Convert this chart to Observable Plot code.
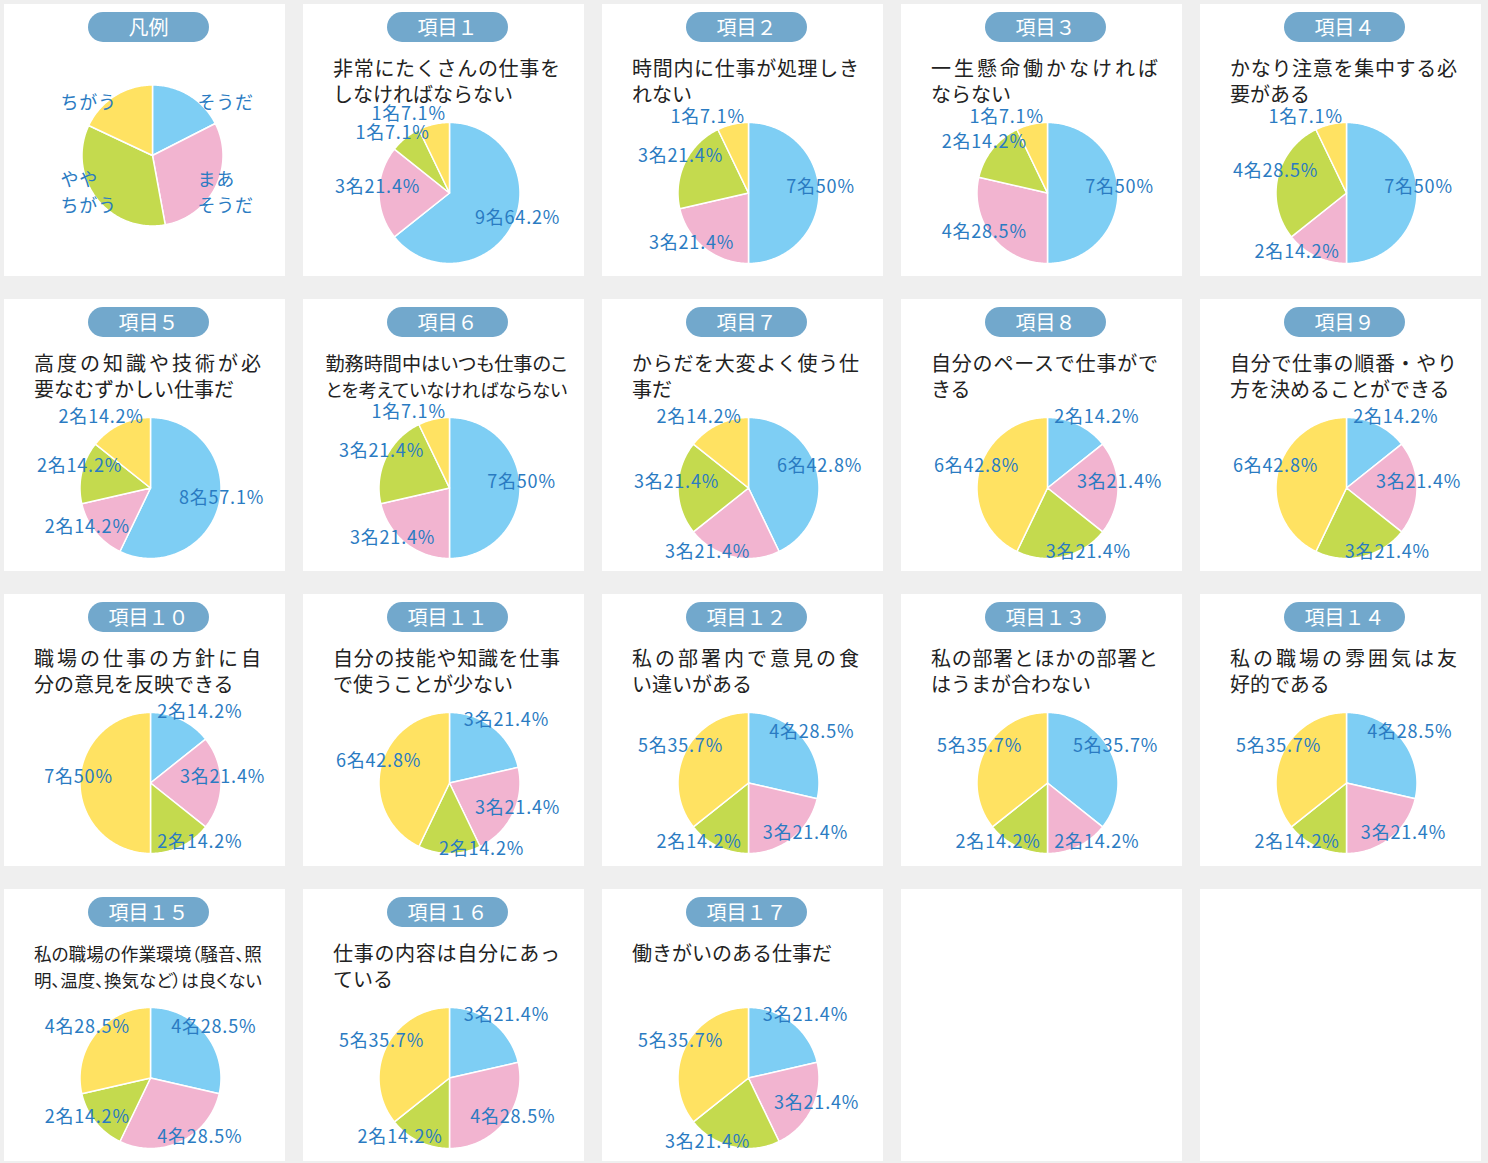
<!DOCTYPE html>
<html><head><meta charset="utf-8">
<script src="https://cdn.jsdelivr.net/npm/d3@7"></script>
<script src="https://cdn.jsdelivr.net/npm/@observablehq/plot@0.6"></script>
<style>
html,body{margin:0;padding:0;background:#efefef;}
body{width:1488px;height:1163px;position:relative;overflow:hidden;font-family:"Noto Sans CJK JP",sans-serif;}
.panel{position:absolute;width:281px;height:272px;background:#fff;}
.panel svg{position:absolute;left:0;top:0;overflow:visible;}
.panel svg text{letter-spacing:0.8px;}
.pill{position:absolute;left:84px;top:8px;width:121px;height:30px;border-radius:15px;background:#72a8cc;color:#fff;font-size:20px;line-height:30px;text-align:center;}
.title{position:absolute;left:30px;top:51px;font-size:20px;line-height:26px;color:#222;}
.title div{height:26px;white-space:nowrap;}
.title span{display:inline-block;white-space:nowrap;}
.palt{font-feature-settings:"palt";}
</style></head><body>
<script>
// ---- data ----
const categories = ["そうだ", "まあそうだ", "ややちがう", "ちがう"];
const categoryLabels = ["そうだ", "まあ\nそうだ", "やや\nちがう", "ちがう"];
const sliceColors = ["#7ecef4", "#f2b4d0", "#c4da4e", "#ffe262"];
const legendName = "凡例";
const legendShares = [17.5, 29.6, 34.9, 18.0];
const respondents = 14;
const itemNames = ["項目１","項目２","項目３","項目４","項目５","項目６","項目７","項目８","項目９",
  "項目１０","項目１１","項目１２","項目１３","項目１４","項目１５","項目１６","項目１７"];
const itemTitles = [
  "非常にたくさんの仕事を\nしなければならない",
  "時間内に仕事が処理しき\nれない",
  "一生懸命働かなければ\nならない",
  "かなり注意を集中する必\n要がある",
  "高度の知識や技術が必\n要なむずかしい仕事だ",
  "勤務時間中はいつも仕事のこ\nとを考えていなければならない",
  "からだを大変よく使う仕\n事だ",
  "自分のペースで仕事がで\nきる",
  "自分で仕事の順番・やり\n方を決めることができる",
  "職場の仕事の方針に自\n分の意見を反映できる",
  "自分の技能や知識を仕事\nで使うことが少ない",
  "私の部署内で意見の食\nい違いがある",
  "私の部署とほかの部署と\nはうまが合わない",
  "私の職場の雰囲気は友\n好的である",
  "私の職場の作業環境（騒音、照\n明、温度、換気など）は良くない",
  "仕事の内容は自分にあっ\nている",
  "働きがいのある仕事だ"
];
const countYes        = [9,7,7,7,8,7,6,2,2,2,3,4,5,4,4,3,3];
const countRatherYes  = [3,3,4,2,2,3,3,3,3,3,3,3,2,3,4,4,3];
const countRatherNo   = [1,3,2,4,2,3,3,3,3,2,2,2,2,2,2,2,3];
const countNo         = [1,1,1,1,2,1,2,6,6,7,6,5,5,5,4,5,5];

// ---- layout constants ----
const PX = 70.5;            // pie radius in px
const labelColor = "#2a7bc2";
const fontFam = '"Noto Sans CJK JP", sans-serif';

function pct(c){ return Math.floor(c / respondents * 1000) / 10; }

function slices(values){
  const arcs = d3.pie().sort(null).value(d => d)(values);
  const pts = [];
  arcs.forEach((a, i) => {
    const cat = categories[i];
    pts.push({cat, x: 0, y: 0});
    const n = Math.max(2, Math.ceil((a.endAngle - a.startAngle) / (Math.PI / 180)));
    for (let k = 0; k <= n; k++) {
      const t = a.startAngle + (a.endAngle - a.startAngle) * k / n;
      pts.push({cat, x: Math.sin(t), y: Math.cos(t)});
    }
    pts.push({cat, x: 0, y: 0});
  });
  return {arcs, pts};
}

function itemLabels(arcs, counts){
  const labs = arcs.map((a, i) => {
    const m = (a.startAngle + a.endAngle) / 2, s = Math.sin(m), c = Math.cos(m);
    const text = `${counts[i]}名${pct(counts[i])}%`;
    return {text, px: s * 72 + Math.sign(s) * 32 * (1 - Math.abs(s)), py: -c * 72 - 6, w: text.length * 11 + 8};
  });
  for (let it = 0; it < 30; it++) {
    for (let i = 0; i < labs.length; i++) for (let j = i + 1; j < labs.length; j++) {
      const a = labs[i], b = labs[j];
      const dx = Math.abs(a.px - b.px), dy = b.py - a.py;
      if (dx < (a.w + b.w) / 2 && Math.abs(dy) < 19) {
        const push = (19 - Math.abs(dy)) / 2;
        if (dy >= 0) { a.py -= push; b.py += push; } else { a.py += push; b.py -= push; }
      }
    }
  }
  return labs.map(l => ({text: l.text, x: l.px / PX, y: -l.py / PX}));
}

function legendLabels(arcs){
  return arcs.map((a, i) => {
    const m = (a.startAngle + a.endAngle) / 2, s = Math.sin(m), c = Math.cos(m);
    return {text: categoryLabels[i], x: (s > 0 ? 45 : -92) / PX, y: (c > 0 ? 55 : -35) / PX};
  });
}

function piePlot(values, labels, margins, textOpts){
  return Plot.plot({
    width: 281, height: 272,
    ...margins,
    x: {domain: [-1, 1], axis: null},
    y: {domain: [-1, 1], axis: null},
    color: {domain: categories, range: sliceColors},
    style: {fontFamily: fontFam, background: "none", overflow: "visible"},
    marks: [
      Plot.line(values.pts, {x: "x", y: "y", z: "cat", fill: "cat", stroke: "white", strokeWidth: 1.5}),
      Plot.text(labels, {x: "x", y: "y", text: "text", fill: labelColor, ...textOpts})
    ]
  });
}

function addTitle(panel, title){
  const box = document.createElement("div");
  box.className = "title";
  panel.appendChild(box);
  const lines = title.split("\n");
  const target = 227;
  const overflowTarget = /[、（）]/.test(title) ? 228 : 242;
  let maxW = 0;
  lines.forEach((ln, i) => {
    const row = document.createElement("div");
    const sp = document.createElement("span");
    sp.textContent = ln;
    row.appendChild(sp);
    box.appendChild(row);
    let w = sp.getBoundingClientRect().width;
    const last = i === lines.length - 1;
    if (w > target + 2) {
      sp.classList.add("palt");
      w = sp.getBoundingClientRect().width;
      if (w > overflowTarget) { sp.style.fontSize = (20 * overflowTarget / w) + "px"; w = overflowTarget; }
    } else if (!last) {
      const n = [...ln].length;
      sp.style.letterSpacing = ((target - w) / (n - 1)) + "px";
      w = target;
    }
    maxW = Math.max(maxW, w);
  });
  if (maxW > target + 2) box.style.left = (30 - (maxW - target) / 2) + "px";
}

function makePanel(idx){
  const col = idx % 5, row = Math.floor(idx / 5);
  const p = document.createElement("div");
  p.className = "panel";
  p.style.left = (4 + col * 299) + "px";
  p.style.top = (4 + row * 295) + "px";
  document.body.appendChild(p);
  return p;
}

function addPill(panel, text){
  const d = document.createElement("div");
  d.className = "pill";
  d.textContent = text;
  panel.appendChild(d);
}

// legend panel
{
  const p = makePanel(0);
  const s = slices(legendShares);
  p.appendChild(piePlot(s, legendLabels(s.arcs),
    {marginTop: 80.5, marginBottom: 50.5, marginLeft: 77.5, marginRight: 62.5},
    {fontSize: 18, textAnchor: "start", lineHeight: 1.45}));
  addPill(p, legendName);
}
// item panels
itemNames.forEach((name, i) => {
  const p = makePanel(i + 1);
  const counts = [countYes[i], countRatherYes[i], countRatherNo[i], countNo[i]];
  const s = slices(counts);
  p.appendChild(piePlot(s, itemLabels(s.arcs, counts),
    {marginTop: 118, marginBottom: 13, marginLeft: 75.5, marginRight: 64.5},
    {fontSize: 18}));
  addTitle(p, itemTitles[i]);
  addPill(p, name);
});
// empty panels
makePanel(18); makePanel(19);
</script></body></html>
